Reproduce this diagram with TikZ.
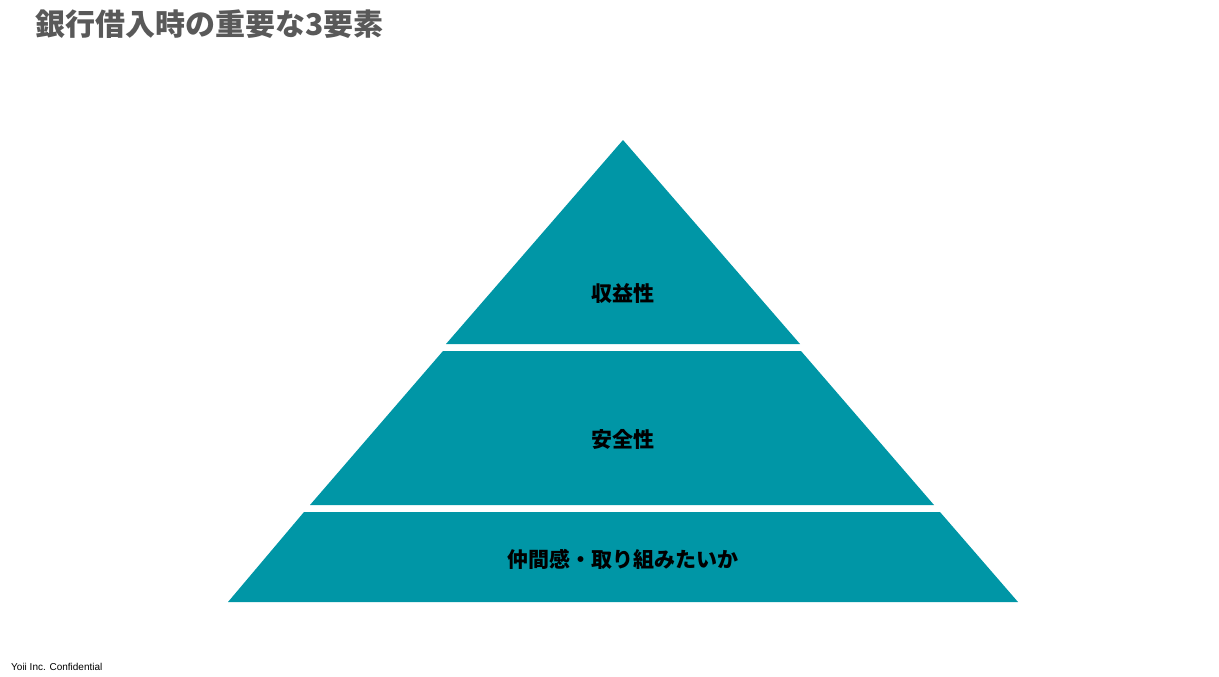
\documentclass[tikz,border=0pt]{standalone}
\usepackage{fontspec}
\newfontfamily\cjk{Noto Sans CJK JP}
\setmainfont{Liberation Sans}
\definecolor{teal1}{RGB}{0,150,166}
\definecolor{tgrey}{RGB}{89,89,89}
\begin{document}
\begin{tikzpicture}[x=1pt,y=-1pt,
  layer/.style={fill=teal1,draw=none},
  lbl/.style={font=\cjk\bfseries\fontsize{21}{24}\selectfont,text=black}]
\useasboundingbox (0,0) rectangle (1219,677);
\fill[layer] (623,140) -- (800,344) -- (446,344) -- cycle;
\fill[layer] (443,351) -- (801,351) -- (934,505) -- (310,505) -- cycle;
\fill[layer] (304,512) -- (940,512) -- (1018,602) -- (228,602) -- cycle;
\node[lbl] (a) at (623,294) {収益性};
\node[lbl] (b) at (623,439) {安全性};
\node[lbl] (c) at (623,559) {仲間感・取り組みたいか};
\node[anchor=west,font=\cjk\bfseries\fontsize{30}{34}\selectfont,text=tgrey,inner sep=0] (t) at (35,24) {銀行借入時の重要な3要素};
\node[anchor=west,font=\fontsize{10}{12}\selectfont,inner sep=0] (f) at (11,667) {Yoii Inc. Confidential};
\end{tikzpicture}
\end{document}
